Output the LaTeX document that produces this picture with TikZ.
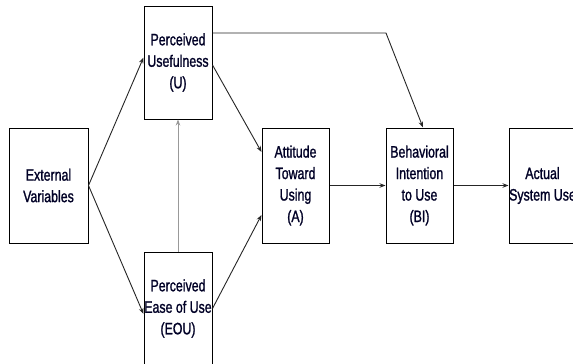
\documentclass[tikz,border=0pt]{standalone}
\usepackage{fontspec}
\setmainfont{Liberation Sans}[FakeStretch=0.75,FakeBold=1.2]
\usetikzlibrary{arrows.meta}
\begin{document}
\begin{tikzpicture}[x=1pt,y=-1pt,
  box/.style={draw=black, line width=1pt, inner sep=0pt, align=center,
    font=\fontsize{16.5}{21.5}\selectfont, text=black!85!blue},
  conn/.style={line width=0.9pt, draw=black!85, -{Stealth[length=6pt,width=4.5pt]}},
  gconn/.style={conn, draw=black!40}]
\useasboundingbox (0,0) rectangle (573,364);
\fill[white] (0,0) rectangle (573,364);
\node[box, minimum width=68pt, minimum height=113pt] (PU) at (178,62.5) {Perceived\\Usefulness\\(U)};
\node[box, minimum width=79pt, minimum height=115pt] (EV) at (48.5,185.5) {External\\Variables};
\node[box, minimum width=68pt, minimum height=113pt] (EOU) at (178,308.5) {Perceived\\Ease of Use\\(EOU)};
\node[box, minimum width=67pt, minimum height=115pt] (A) at (295.5,185.5) {Attitude\\Toward\\Using\\(A)};
\node[box, minimum width=67pt, minimum height=115pt] (BI) at (419.5,185.5) {Behavioral\\Intention\\to Use\\(BI)};
\node[box, minimum width=67pt, minimum height=115pt] (ASU) at (542.5,185.5) {Actual\\System Use};
\coordinate (bend) at (386,33);
\draw[conn] (EV.east) -- ([yshift=5pt]PU.west);
\draw[conn] (EV.east) -- ([yshift=-5.5pt]EOU.west);
\draw[gconn] (EOU.north) -- (PU.south);
\draw[conn] ([yshift=-2.5pt]PU.east) -- ([yshift=33.5pt]A.west);
\draw[conn] (EOU.east) -- ([yshift=-29.5pt]A.west);
\draw[conn] ([yshift=29.5pt]PU.east) -- (bend) -- ([xshift=3.5pt]BI.north);
\draw[conn] (A.east) -- (BI.west);
\draw[conn] (BI.east) -- (ASU.west);
\end{tikzpicture}
\end{document}
